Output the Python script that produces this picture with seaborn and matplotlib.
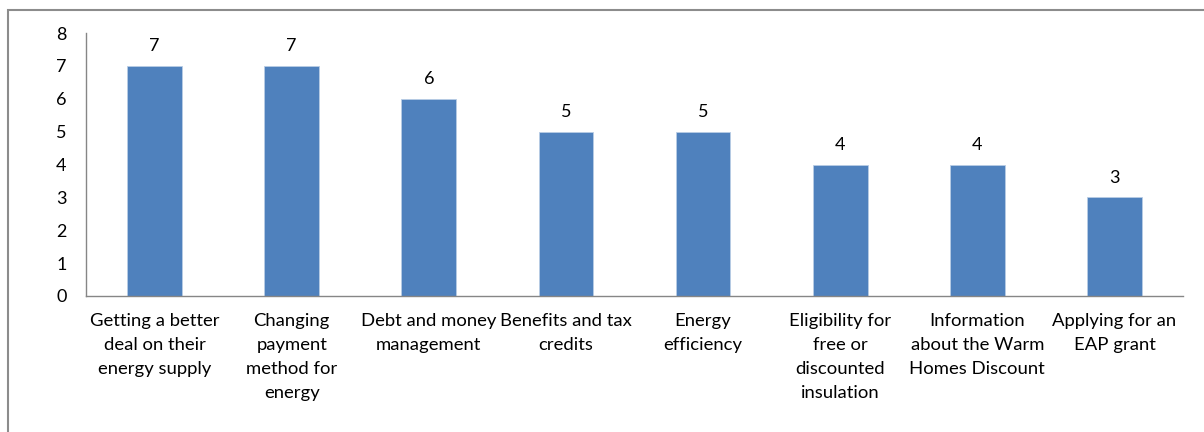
import matplotlib
matplotlib.use("Agg")
import matplotlib.pyplot as plt
import seaborn as sns
import pandas as pd
from matplotlib.patches import Rectangle

categories = [
    "Getting a better\ndeal on their\nenergy supply",
    "Changing\npayment\nmethod for\nenergy",
    "Debt and money\nmanagement",
    "Benefits and tax\ncredits",
    "Energy\nefficiency",
    "Eligibility for\nfree or\ndiscounted\ninsulation",
    "Information\nabout the Warm\nHomes Discount",
    "Applying for an\nEAP grant",
]
values = [7, 7, 6, 5, 5, 4, 4, 3]
y_ticks = [0, 1, 2, 3, 4, 5, 6, 7, 8]

sns.set_style("white")
plt.rcParams["font.family"] = ["Lato", "DejaVu Sans"]

df = pd.DataFrame({"topic": categories, "count": values})

fig = plt.figure(figsize=(12.04, 4.32), dpi=100)
ax = fig.add_axes([86 / 1204, 1 - 296 / 432, (1183 - 86) / 1204, (296 - 33) / 432])

sns.barplot(data=df, x="topic", y="count", color="#4F81BD", width=0.4,
            saturation=1, ax=ax, edgecolor="#B9CDE5", linewidth=0.6)

axis_grey = "#868686"
ax.set_ylim(0, 8)
ax.set_xlim(-0.5, len(categories) - 0.5)
ax.set_yticks(y_ticks)
ax.set_yticklabels([str(t) for t in y_ticks], fontsize=13, color="#000000")
ax.set_xlabel("")
ax.set_ylabel("")

# category labels centred under bars, tick marks between categories
ax.set_xticks(range(len(categories)))
ax.set_xticklabels(categories, fontsize=13.3, color="#000000", linespacing=1.63, va="top")
ax.tick_params(axis="x", length=0, pad=12)
ax.set_xticks([i - 0.5 for i in range(len(categories) + 1)], minor=True)
ax.tick_params(axis="x", which="minor", length=6, color=axis_grey, width=1, direction="out")
ax.tick_params(axis="y", length=6, color=axis_grey, width=1, direction="out", pad=8)

for side in ["top", "right"]:
    ax.spines[side].set_visible(False)
for side in ["left", "bottom"]:
    ax.spines[side].set_color(axis_grey)
    ax.spines[side].set_linewidth(1)

for i, v in enumerate(values):
    ax.text(i, v + 0.35, str(v), ha="center", va="bottom", fontsize=13, color="#000000")

# chart frame
fig.patches.append(Rectangle((8 / 1204, -0.1), 1.2, 1.1 - 10 / 432, transform=fig.transFigure,
                             fill=False, edgecolor="#8C8C8C", linewidth=1.5))

fig.savefig("out.png", dpi=100)
